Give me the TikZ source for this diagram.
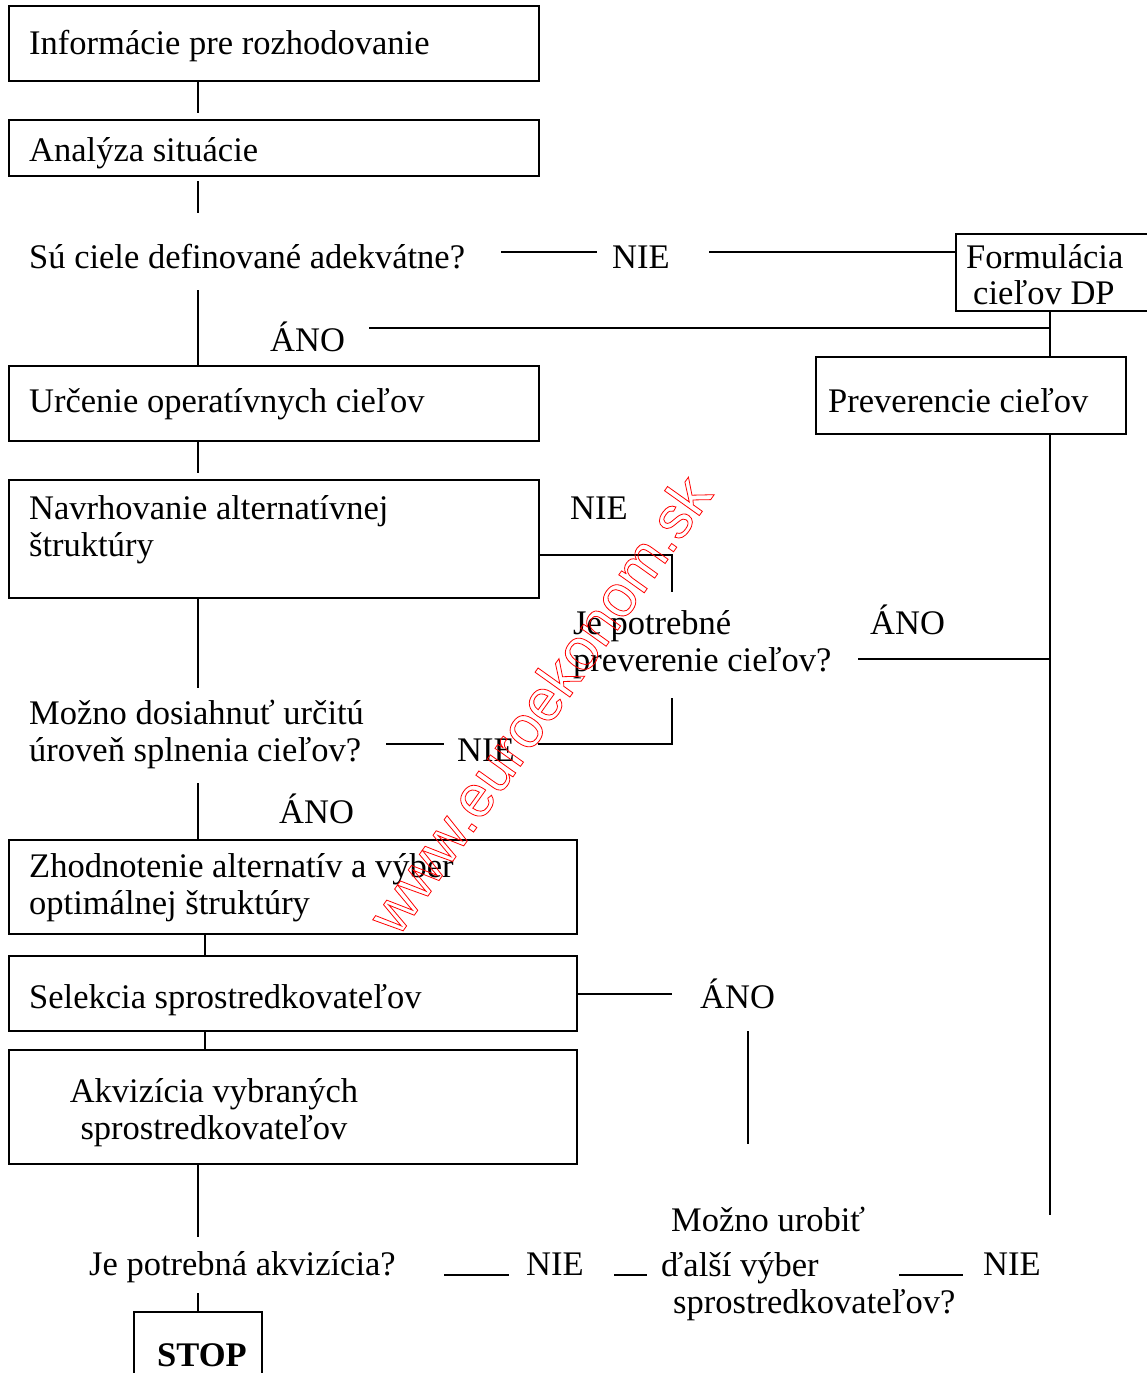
\documentclass[tikz,border=0pt]{standalone}
\usepackage{fontspec}
\setmainfont{Liberation Serif}
\newfontfamily\wmfont{Liberation Sans}
\begin{document}
\begin{tikzpicture}[x=1pt,y=-1pt,
  box/.style={draw=black, line width=1.5pt, inner sep=0pt},
  txt/.style={anchor=base west, inner sep=0pt, align=left, font=\fontsize{34.5pt}{37pt}\selectfont},
  ln/.style={line width=1.3pt},
  under/.style={line width=2.2pt}]
\useasboundingbox (0,0) rectangle (1147,1373);
% boxes
\node[box, minimum width=530pt, minimum height=75pt] (b1) at (274,43.5) {};
\node[box, minimum width=530pt, minimum height=56pt] (b2) at (274,148) {};
\node[box, minimum width=194pt, minimum height=77pt] (bF) at (1053,272.5) {};
\node[box, minimum width=530pt, minimum height=75pt] (b3) at (274,403.5) {};
\node[box, minimum width=310pt, minimum height=77pt] (bP) at (971,395.5) {};
\node[box, minimum width=530pt, minimum height=118pt] (b4) at (274,539) {};
\node[box, minimum width=568pt, minimum height=94pt] (b5) at (293,887) {};
\node[box, minimum width=568pt, minimum height=75pt] (b6) at (293,993.5) {};
\node[box, minimum width=568pt, minimum height=114pt] (b7) at (293,1107) {};
\node[box, minimum width=128pt, minimum height=76pt] (bS) at (198,1350) {};
% texts (multi-line nodes: base = baseline of the last line)
\node[txt] (t1) at (29,54) {Informácie pre rozhodovanie};
\node[txt] (t2) at (29,161) {Analýza situácie};
\node[txt] (q1) at (29,268) {Sú ciele definované adekvátne?};
\node[txt] (n1) at (612,268) {NIE};
\node[txt, font=\fontsize{34.5pt}{36pt}\selectfont] (tF) at (966,304) {Formulácia\\\hspace*{7pt}cieľov DP};
\node[txt] (a1) at (270,351) {ÁNO};
\node[txt] (t3) at (29,412) {Určenie operatívnych cieľov};
\node[txt] (tP) at (828,412) {Preverencie cieľov};
\node[txt] (t4) at (29,556) {Navrhovanie alternatívnej\\štruktúry};
\node[txt] (n2) at (570,519) {NIE};
\node[txt] (q2) at (573,671) {Je potrebné\\preverenie cieľov?};
\node[txt] (a2) at (870,634) {ÁNO};
\node[txt] (q3) at (29,761) {Možno dosiahnuť určitú\\úroveň splnenia cieľov?};
\node[txt] (n3) at (457,761) {NIE};
\node[txt] (a3) at (279,823) {ÁNO};
\node[txt] (t5) at (29,914) {Zhodnotenie alternatív a výber\\optimálnej štruktúry};
\node[txt] (t6) at (29,1008) {Selekcia sprostredkovateľov};
\node[txt] (a4) at (700,1008) {ÁNO};
\node[txt, align=center, anchor=base] (t7) at (214,1139) {Akvizícia vybraných\\sprostredkovateľov};
\node[txt] (q4) at (89,1275) {Je potrebná akvizícia?};
\node[txt] (n4) at (526,1275) {NIE};
\node[txt] (q5) at (671,1313) {Možno urobiť\\[8pt]\hspace*{-10pt}ďalší výber\\\hspace*{2pt}sprostredkovateľov?};
\node[txt] (n5) at (983,1275) {NIE};
\node[txt, font=\fontsize{34.5pt}{37pt}\selectfont\bfseries] (tS) at (157,1366) {STOP};
% helper columns
\coordinate (x198) at (198,0);
\coordinate (x205) at (205,0);
\coordinate (x1050) at (1050,0);
% connectors
\coordinate (p1) at (198,113);
\draw[ln] (b1.south -| x198) -- (p1);
\coordinate (p2a) at (198,181); \coordinate (p2b) at (198,213);
\draw[ln] (p2a) -- (p2b);
\coordinate (p3a) at (501,252); \coordinate (p3b) at (597,252);
\draw[ln] (p3a) -- (p3b);
\coordinate (p4) at (709,252);
\draw[ln] (p4) -- (p4 -| bF.west);
\draw[ln] (bF.south -| x1050) -- (bP.north -| x1050);
\coordinate (p6) at (369,328);
\draw[ln] (p6) -- (p6 -| x1050);
\coordinate (p7) at (198,290);
\draw[ln] (p7) -- (p7 |- b3.north);
\coordinate (p8) at (1050,1215);
\draw[ln] (bP.south -| x1050) -- (p8);
\coordinate (p9) at (198,473);
\draw[ln] (b3.south -| x198) -- (p9);
\coordinate (p10) at (672,555); \coordinate (p10b) at (672,592);
\draw[ln] (p10 -| b4.east) -- (p10) -- (p10b);
\coordinate (p11) at (858,659);
\draw[ln] (p11) -- (p11 -| x1050);
\coordinate (p12a) at (672,698); \coordinate (p12b) at (672,744); \coordinate (p12c) at (538,744);
\draw[ln] (p12a) -- (p12b) -- (p12c);
\coordinate (p13a) at (386,744); \coordinate (p13b) at (444,744);
\draw[ln] (p13a) -- (p13b);
\coordinate (p14) at (198,688);
\draw[ln] (b4.south -| x198) -- (p14);
\coordinate (p15) at (198,783);
\draw[ln] (p15) -- (p15 |- b5.north);
\draw[ln] (b5.south -| x205) -- (b6.north -| x205);
\coordinate (p17) at (672,994);
\draw[ln] (p17 -| b6.east) -- (p17);
\coordinate (p18a) at (748,1031); \coordinate (p18b) at (748,1144);
\draw[ln] (p18a) -- (p18b);
\draw[ln] (b6.south -| x205) -- (b7.north -| x205);
\coordinate (p20) at (198,1237);
\draw[ln] (b7.south -| x198) -- (p20);
\coordinate (p21) at (198,1293);
\draw[ln] (p21) -- (p21 |- bS.north);
% underscores
\coordinate (u1a) at (444,1275); \coordinate (u1b) at (509,1275);
\coordinate (u2a) at (614,1275); \coordinate (u2b) at (647,1275);
\coordinate (u3a) at (899,1275); \coordinate (u3b) at (963,1275);
\draw[under] (u1a) -- (u1b);
\draw[under] (u2a) -- (u2b);
\draw[under] (u3a) -- (u3b);
% watermark
\node[anchor=base west, rotate=54.5, inner sep=0pt, text=red, font=\wmfont\fontsize{59pt}{59pt}\selectfont] (wm) at (398,938) {\special{pdf:literal direct 1 0 0 RG 0.8 w 1 Tr}www.euroekonom.sk\special{pdf:literal direct 0 Tr}};
\end{tikzpicture}
\end{document}
